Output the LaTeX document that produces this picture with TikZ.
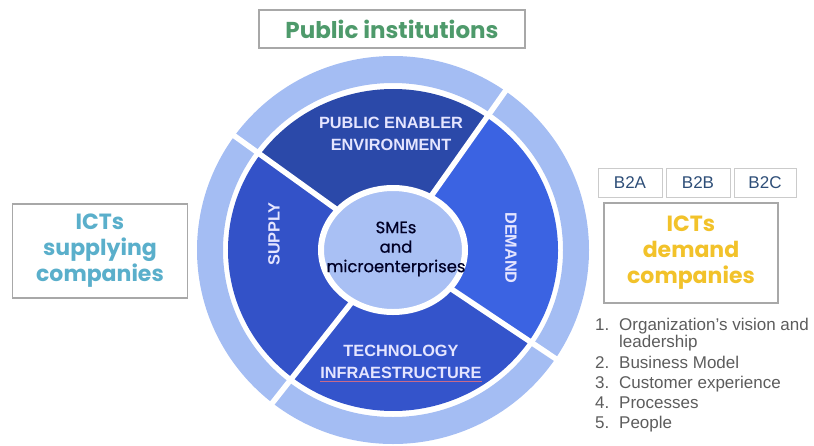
\documentclass[tikz,border=0pt]{standalone}
\usepackage{fontspec}
\setmainfont{Liberation Sans}
\newfontfamily\popfont{Poppins}
\newfontfamily\popmed{Poppins}[FakeBold=0.6]
\usetikzlibrary{positioning}

\definecolor{instgreen}{HTML}{4E9A6B}
\definecolor{supplyteal}{HTML}{5AAFCB}
\definecolor{demandgold}{HTML}{F2C22A}
\definecolor{tagtext}{HTML}{2E4E78}
\definecolor{listgray}{HTML}{5C5C5C}
\definecolor{boxgray}{HTML}{A8A8A8}
\definecolor{ringblue}{HTML}{A4BDF3}
\definecolor{hubblue}{HTML}{A9C0F4}
\definecolor{navyblue}{HTML}{2B49A9}
\definecolor{midblue}{HTML}{3352C8}
\definecolor{techblue}{HTML}{3454CB}
\definecolor{brightblue}{HTML}{3B63E2}
\definecolor{spellred}{HTML}{C86A8A}

\begin{document}
\begin{tikzpicture}[x=1pt, y=1pt,
        framebox/.style = {draw=boxgray, line width=1.3pt, fill=white, inner sep=0pt, align=center},
        headbox/.style  = {framebox, font=\popfont\bfseries\fontsize{23}{27}\selectfont},
        sidebox/.style  = {framebox, font=\popfont\bfseries\fontsize{22}{26}\selectfont},
        tagbox/.style   = {draw=boxgray!60, line width=1pt, fill=white, inner sep=0pt, text=tagtext,
                           minimum height=29pt, font=\fontsize{17}{19}\selectfont},
        segtext/.style  = {inner sep=0pt, align=center, text=white!90!blue,
                           font=\bfseries\fontsize{16.3}{21.5}\selectfont},
        hubtext/.style  = {inner sep=0pt, align=center, text=black!85!blue,
                           font=\popmed\fontsize{16.4}{19.5}\selectfont},
        listtext/.style = {inner sep=0pt, anchor=base west, text=listgray,
                           font=\fontsize{17}{19}\selectfont}]

    \useasboundingbox (0,0) rectangle (814,-445);

    % centre of the wheel
    \coordinate (hub) at (393,-250);

    % outer light ring
    \fill[ringblue, even odd rule] (hub) ellipse[x radius=196, y radius=194]
                                   (hub) ellipse[x radius=170, y radius=167];

    % the four sectors
    \foreach \from/\to/\col in {55/144/navyblue, 144/232/midblue, 232/326/techblue, 326/415/brightblue}
    \fill[\col] (hub) -- ++(\from:165 and 161) arc[start angle=\from, end angle=\to, x radius=165, y radius=161] -- cycle;

    % white cuts between the sectors, running through the ring
    \foreach \ang in {55,144,232,326}
    \draw[white, line width=5.5pt] (hub) -- ++(\ang:210 and 208);

    % inner disc
    \filldraw[fill=hubblue, draw=white, line width=6pt] (hub) ellipse[x radius=72, y radius=62];

    % labels of the wheel
    \node[segtext] (enabler) at (391,-134) {PUBLIC ENABLER\\ENVIRONMENT};
    \node[segtext, rotate=90] (supply) at (274,-234) {SUPPLY};
    \node[segtext, rotate=-90] (demand) at (511,-248) {DEMAND};
    \node[segtext] (tech) at (401,-362) {TECHNOLOGY\\INFRAESTRUCTURE};
    \draw[spellred, line width=0.7pt] ([yshift=-3pt]tech.south west) -- ([yshift=-3pt]tech.south east);
    \node[hubtext] (sme) at (396,-249) {SMEs\\and\\microenterprises};

    % boxes around the wheel
    \node[headbox, text=instgreen, minimum width=266pt, minimum height=38pt] (inst) at (392,-29) {Public institutions};
    \node[sidebox, text=supplyteal, minimum width=175pt, minimum height=94pt] (supplier) at (100,-251) {ICTs\\supplying\\companies};
    \node[sidebox, text=demandgold, minimum width=174pt, minimum height=100pt] (buyer) at (691,-253) {ICTs\\demand\\companies};

    % business kinds above the demand box
    \node[tagbox, minimum width=64pt] (b2a) at (630,-182.5) {B2A};
    \node[tagbox, minimum width=64pt, right=3pt of b2a] (b2b) {B2B};
    \node[tagbox, minimum width=62pt, right=3pt of b2b] (b2c) {B2C};

    % numbered list under the demand box
    \node[listtext] (num1) at (595,-330) {1.};
    \node[listtext] (item1) at (619,-330) {Organization's vision and};
    \node[listtext] (item1b) at (619,-347) {leadership};
    \node[listtext] (num2) at (595,-368) {2.};
    \node[listtext] (item2) at (619,-368) {Business Model};
    \node[listtext] (num3) at (595,-388) {3.};
    \node[listtext] (item3) at (619,-388) {Customer experience};
    \node[listtext] (num4) at (595,-408) {4.};
    \node[listtext] (item4) at (619,-408) {Processes};
    \node[listtext] (num5) at (595,-428) {5.};
    \node[listtext] (item5) at (619,-428) {People};

\end{tikzpicture}
\end{document}
